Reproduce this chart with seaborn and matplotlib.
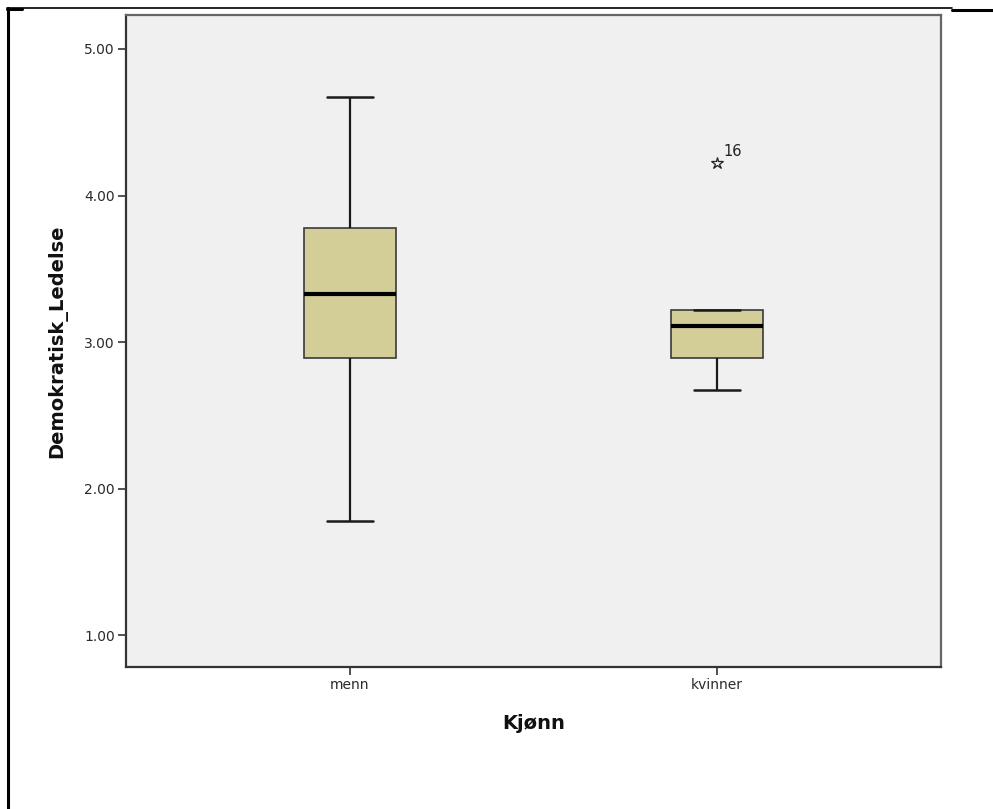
import numpy as np
import pandas as pd
import matplotlib
matplotlib.use("Agg")
import matplotlib.pyplot as plt
from matplotlib.lines import Line2D
import seaborn as sns

# Scores on the 1-5 scale (ninths of the scale), one list per group
categories = ["menn", "kvinner"]
menn_scores = [1.78, 2.89, 3.33, 3.78, 4.67]
kvinner_scores = [2.67, 2.89, 2.89, 3.11, 3.22, 3.22, 4.22]
outlier_case = 16          # case number of the extreme kvinner score
y_ticks = [1.00, 2.00, 3.00, 4.00, 5.00]

df = pd.DataFrame({
    "Kjønn": ["menn"] * len(menn_scores) + ["kvinner"] * len(kvinner_scores),
    "Demokratisk_Ledelse": menn_scores + kvinner_scores,
})

sns.set_theme(style="white")
plt.rcParams["font.family"] = ["DejaVu Sans"]

fig = plt.figure(figsize=(9.93, 8.09), dpi=100)
ax = fig.add_axes([126 / 993, 1 - 667 / 809, (941 - 126) / 993, (667 - 15) / 809])
ax.set_facecolor("#F0F0F0")

box_fill = "#D3CE97"
sns.boxplot(
    data=df, x="Kjønn", y="Demokratisk_Ledelse", order=categories,
    color=box_fill, saturation=1, width=0.25, whis=1.5, ax=ax,
    boxprops=dict(facecolor=box_fill, edgecolor="#3a3a3a", linewidth=1.2),
    medianprops=dict(color="black", linewidth=3),
    whiskerprops=dict(color="#1a1a1a", linewidth=1.6),
    capprops=dict(color="#1a1a1a", linewidth=1.8),
    flierprops=dict(marker="*", markersize=9, markerfacecolor="none",
                    markeredgecolor="#222222", markeredgewidth=0.9),
)

# Label the extreme value with its case number
kv = np.array(kvinner_scores)
q1, q3 = np.percentile(kv, [25, 75])
iqr = q3 - q1
for v in kv[(kv > q3 + 1.5 * iqr) | (kv < q1 - 1.5 * iqr)]:
    ax.annotate(str(outlier_case), xy=(1, v), xytext=(5, 5),
                textcoords="offset points", fontsize=10.5, color="#222222")

ax.set_xlim(-0.61, 1.611)
ax.set_ylim(0.782, 5.232)
ax.set_yticks(y_ticks)
ax.set_yticklabels([f"{t:.2f}" for t in y_ticks])

ax.tick_params(axis="both", direction="out", length=6, width=1.2,
               color="#333333", labelsize=10, labelcolor="#2a2a2a",
               left=True, bottom=True, pad=2)

ax.set_ylabel("Demokratisk_Ledelse", fontsize=14, fontweight="bold",
              color="#111111", labelpad=12)
ax.set_xlabel("Kjønn", fontsize=14, fontweight="bold", color="#111111",
              labelpad=16)

for side, sp in ax.spines.items():
    sp.set_visible(True)
    sp.set_linewidth(1.6)
    sp.set_color("#333333" if side in ("left", "bottom") else "#666666")

# Outer frame lines around the output cell
W, H = 993, 809
def fx(x):
    return x / W
def fy(y):
    return 1 - y / H
fig.add_artist(Line2D([fx(7), fx(952)], [fy(8), fy(8)], color="black", lw=1.2))
fig.add_artist(Line2D([fx(7), fx(22)], [fy(9), fy(9)], color="black", lw=2.2))
fig.add_artist(Line2D([fx(952), fx(993)], [fy(9.5), fy(9.5)], color="black", lw=2.2))
fig.add_artist(Line2D([fx(8), fx(8)], [fy(8), fy(809)], color="black", lw=2.2))

fig.savefig("out.png", dpi=100, facecolor="white")
